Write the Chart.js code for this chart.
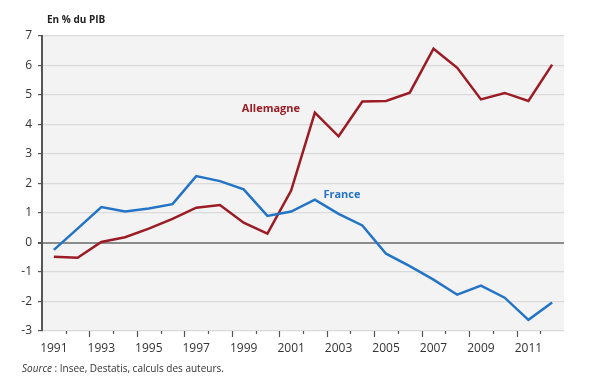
<!DOCTYPE html>
<html>
<head>
<meta charset="utf-8">
<script src="https://cdn.jsdelivr.net/npm/chart.js@4"></script>
<style>
html,body{margin:0;padding:0;background:#fff;}
#wrap{width:596px;height:378px;position:relative;}
</style>
</head>
<body>
<div id="wrap"><canvas id="c" width="596" height="378"></canvas></div>
<script>
const years = ['1991','1992','1993','1994','1995','1996','1997','1998','1999','2000','2001','2002','2003','2004','2005','2006','2007','2008','2009','2010','2011','2012'];
const france = [-0.25,0.47,1.2,1.05,1.15,1.3,2.25,2.08,1.8,0.9,1.05,1.45,0.97,0.58,-0.38,-0.8,-1.26,-1.77,-1.46,-1.87,-2.62,-2.03];
const allemagne = [-0.48,-0.52,0.02,0.18,0.47,0.8,1.18,1.27,0.67,0.3,1.76,4.4,3.6,4.78,4.8,5.08,6.57,5.92,4.85,5.07,4.8,6.03];
const yTicks = [-3,-2,-1,0,1,2,3,4,5,6,7];
const seriesNames = ['France','Allemagne'];
const unitLabel = 'En % du PIB';
const sourceItalic = 'Source';
const sourceRest = ' : Insee, Destatis, calculs des auteurs.';

const BLUE = '#2374c6';
const RED = '#9b1c24';
const FONT = "'Open Sans', sans-serif";

const bgPlugin = {
  id: 'bg',
  beforeDraw(chart) {
    const {ctx, chartArea: a} = chart;
    ctx.save();
    ctx.fillStyle = '#f3f3f3';
    ctx.fillRect(a.left, a.top, a.right - a.left, a.bottom - a.top);
    ctx.restore();
  }
};

// x tick marks at category boundaries, longer before labelled (odd) years
const xTickPlugin = {
  id: 'xticks',
  afterDraw(chart) {
    const {ctx, chartArea: a} = chart;
    const xs = chart.scales.x;
    ctx.save();
    ctx.strokeStyle = '#555';
    ctx.lineWidth = 1.2;
    for (let i = 1; i < years.length; i++) {
      const px = Math.round(xs.getPixelForValue(i - 0.5)) + 0.5;
      const len = (i % 2 === 0) ? 6 : 3;
      ctx.beginPath();
      ctx.moveTo(px, a.bottom);
      ctx.lineTo(px, a.bottom + len);
      ctx.stroke();
    }
    ctx.restore();
  }
};

const textPlugin = {
  id: 'texts',
  afterDraw(chart) {
    const {ctx} = chart;
    const xs = chart.scales.x, ys = chart.scales.y;
    ctx.save();
    ctx.textBaseline = 'middle';
    ctx.font = "bold 11px " + FONT;
    ctx.fillStyle = RED;
    ctx.textAlign = 'center';
    ctx.fillText(seriesNames[1], xs.getPixelForValue(9.15), ys.getPixelForValue(4.52));
    ctx.fillStyle = BLUE;
    ctx.fillText(seriesNames[0], xs.getPixelForValue(12.14), ys.getPixelForValue(1.63));
    ctx.textAlign = 'left';
    ctx.fillStyle = '#222';
    ctx.font = "bold 10px " + FONT;
    ctx.fillText(unitLabel, 47, 20);
    ctx.font = "italic 10px " + FONT;
    ctx.fillStyle = '#333';
    ctx.fillText(sourceItalic, 22, 369);
    const w = ctx.measureText(sourceItalic).width;
    ctx.font = "10px " + FONT;
    ctx.fillText(sourceRest, 22 + w, 369);
    ctx.restore();
  }
};

new Chart(document.getElementById('c'), {
  type: 'line',
  data: {
    labels: years,
    datasets: [
      {label: seriesNames[0], data: france, borderColor: BLUE, borderWidth: 2.5, pointRadius: 0, tension: 0, fill: false},
      {label: seriesNames[1], data: allemagne, borderColor: RED, borderWidth: 2.5, pointRadius: 0, tension: 0, fill: false}
    ]
  },
  options: {
    responsive: false,
    animation: false,
    devicePixelRatio: 1,
    layout: {padding: {top: 36, right: 32, bottom: 0, left: 0}},
    plugins: {legend: {display: false}, tooltip: {enabled: false}},
    scales: {
      x: {
        offset: true,
        grid: {offset: true, display: true, drawOnChartArea: false, drawTicks: true, tickLength: 8, tickColor: 'rgba(0,0,0,0)'},
        border: {display: false},
        ticks: {
          autoSkip: false, maxRotation: 0, padding: 2,
          color: '#333', font: {family: FONT, size: 12},
          callback: function(v, i) { return i % 2 === 0 ? years[i] : ''; }
        },
        afterFit(s) { s.height = 47; }
      },
      y: {
        min: -3, max: 7,
        afterBuildTicks(s) { s.ticks = yTicks.map(v => ({value: v})); },
        grid: {
          color: ctx => ctx.tick && ctx.tick.value === 0 ? '#8c8c8c' : '#dadada',
          lineWidth: ctx => ctx.tick && ctx.tick.value === 0 ? 2 : 1.2,
          tickColor: '#555', tickLength: 4, drawTicks: true
        },
        border: {display: true, color: '#555', width: 2},
        ticks: {color: '#333', font: {family: FONT, size: 12}, padding: 6},
        afterFit(s) { s.width = 42; }
      }
    }
  },
  plugins: [bgPlugin, xTickPlugin, textPlugin]
});
</script>
</body>
</html>
